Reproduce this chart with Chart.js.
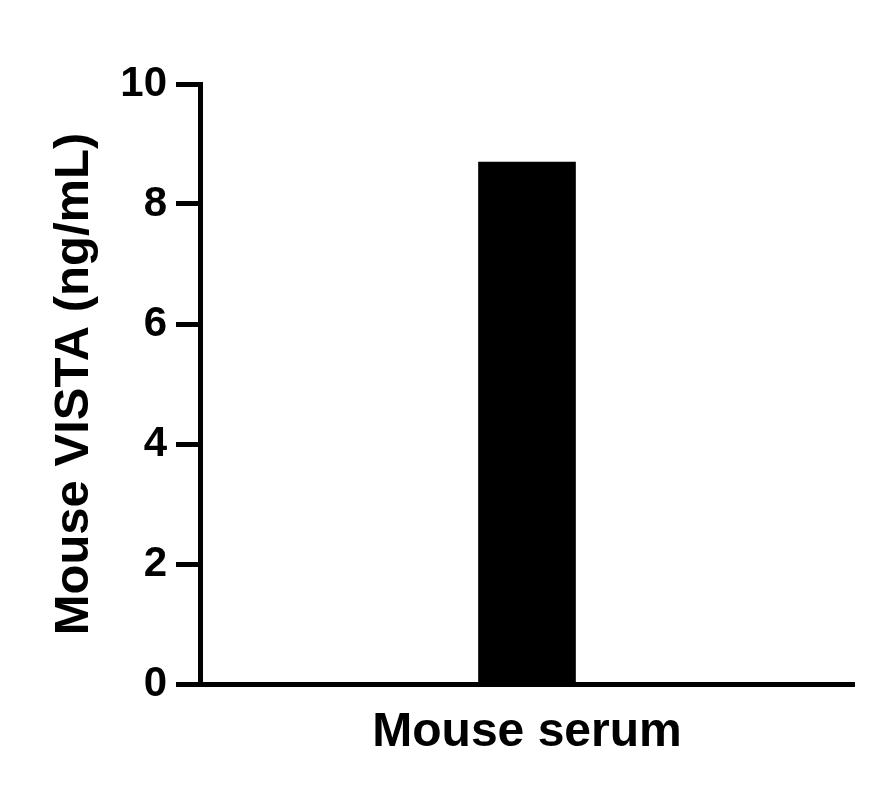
<!DOCTYPE html>
<html lang="en">
<head>
    <meta charset="UTF-8">
    <title>Mouse VISTA</title>
    <script src="https://cdn.jsdelivr.net/npm/chart.js"></script>
    <style>
        body { margin: 0; background: #fff; }
        .wrap { width: 882px; height: 804px; position: relative; }
    </style>
</head>
<body>
<div class="wrap"><canvas id="barChart"></canvas></div>
<script>
    // data
    const categories = ['Mouse serum'];
    const values = [8.7];
    const yTicks = [0, 2, 4, 6, 8, 10];

    const FONT = "'Liberation Sans', Arial, sans-serif";

    const ctx = document.getElementById('barChart').getContext('2d');
    new Chart(ctx, {
        type: 'bar',
        data: {
            labels: categories,
            datasets: [{
                data: values,
                backgroundColor: '#000',
                borderWidth: 0,
                barThickness: 97
            }]
        },
        options: {
            responsive: true,
            maintainAspectRatio: false,
            animation: false,
            layout: { padding: { top: 84, right: 28, bottom: 0, left: 0 } },
            plugins: { legend: { display: false }, tooltip: { enabled: false } },
            scales: {
                x: {
                    grid: { display: false, drawTicks: false },
                    border: { display: true, color: '#000', width: 5 },
                    ticks: {
                        color: '#000',
                        padding: 20,
                        font: { family: FONT, size: 48, weight: 'bold' }
                    },
                    afterFit: s => { s.height = 120; }
                },
                y: {
                    min: 0,
                    max: 10,
                    afterBuildTicks: s => { s.ticks = yTicks.map(v => ({ value: v })); },
                    grid: {
                        drawOnChartArea: false,
                        drawTicks: true,
                        tickLength: 24,
                        tickWidth: 5,
                        tickColor: '#000'
                    },
                    border: { display: true, color: '#000', width: 5 },
                    ticks: {
                        color: '#000',
                        padding: 9,
                        font: { family: FONT, size: 42, weight: 'bold' }
                    },
                    title: {
                        display: true,
                        text: 'Mouse VISTA (ng/mL)',
                        color: '#000',
                        padding: { top: 45, bottom: 0 },
                        font: { family: FONT, size: 49, weight: 'bold' }
                    },
                    afterFit: s => { s.width = 200; }
                }
            }
        }
    });
</script>
</body>
</html>
